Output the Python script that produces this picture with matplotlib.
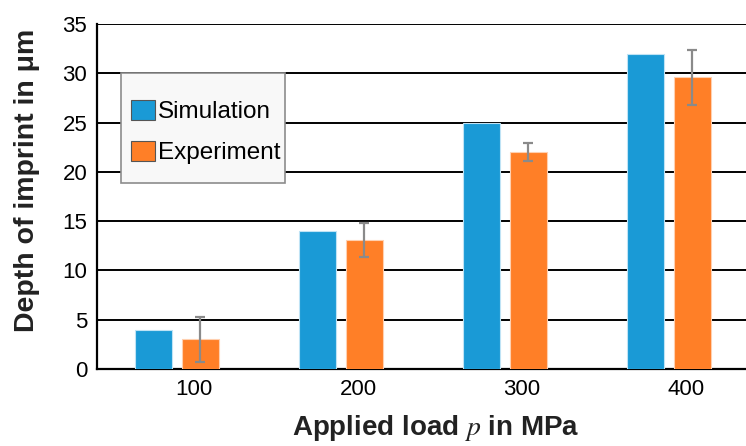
import matplotlib.pyplot as plt
import numpy as np
from matplotlib.patches import Rectangle

loads = ["100", "200", "300", "400"]
simulation = [4.0, 14.0, 25.0, 32.0]
experiment = [3.0, 13.1, 22.0, 29.6]
experiment_err = [2.3, 1.7, 0.9, 2.8]

plt.rcParams["font.family"] = ["Liberation Sans", "DejaVu Sans"]
plt.rcParams["mathtext.fontset"] = "stix"

blue = "#1a9ad6"
orange = "#ff7f27"

fig = plt.figure(figsize=(7.46, 4.46), dpi=100)
ax = fig.add_axes([0.130, 0.1726, 0.870, 0.7735])

x = np.arange(len(loads))
w = 0.225
off = 0.143

ax.bar(x - off, simulation, w, color=blue, edgecolor="#bfe3f5", linewidth=0.8, zorder=3,
       label="Simulation")
ax.bar(x + off, experiment, w, color=orange, edgecolor="#ffd0b0", linewidth=0.8, zorder=3,
       label="Experiment")
ax.errorbar(x + off, experiment, yerr=experiment_err, fmt="none", ecolor="#8a8a8a",
            elinewidth=1.6, capsize=3.3, capthick=1.6, zorder=4)

ax.set_xlim(-0.488, 3.47)
ax.set_ylim(0, 35)
ax.set_yticks(range(0, 36, 5))
# labels sit a little right of the bar groups in the original
ax.set_xticks(x + 0.105)
ax.set_xticklabels(loads)
ax.yaxis.grid(True, color="black", linewidth=1.4, zorder=1)
ax.set_axisbelow(True)
for s in ["top", "right"]:
    ax.spines[s].set_visible(False)
ax.spines["left"].set_linewidth(1.6)
ax.spines["bottom"].set_linewidth(1.6)
ax.tick_params(axis="both", length=0, labelsize=16)
ax.tick_params(axis="x", pad=7)
ax.tick_params(axis="y", pad=7)

ax.set_xlabel("Applied load $p$ in MPa", fontsize=20, fontweight="bold",
              color="#222222")
ax.set_ylabel("Depth of imprint in μm", fontsize=20.5, fontweight="bold",
              color="#222222")
ax.xaxis.set_label_coords(0.522, -0.127)
ax.yaxis.set_label_coords(-0.088, 0.548)

# legend box
fig.patches.append(Rectangle((0.162, 0.5897), 0.2198, 0.2466, transform=fig.transFigure,
                             facecolor="#f8f8f8", edgecolor="#8c8c8c", linewidth=1.2,
                             zorder=5))
leg = fig.legend(loc="upper left", bbox_to_anchor=(131 / 746, 1 - 100 / 446),
                 frameon=False, fontsize=17.5, handlelength=1.0, handleheight=0.9,
                 handletextpad=0.12, labelspacing=0.72, borderpad=0, borderaxespad=0)
for h in leg.legend_handles:
    h.set_edgecolor("#555555")
    h.set_linewidth(0.8)
leg.set_zorder(6)

fig.savefig("out.png", dpi=100)
